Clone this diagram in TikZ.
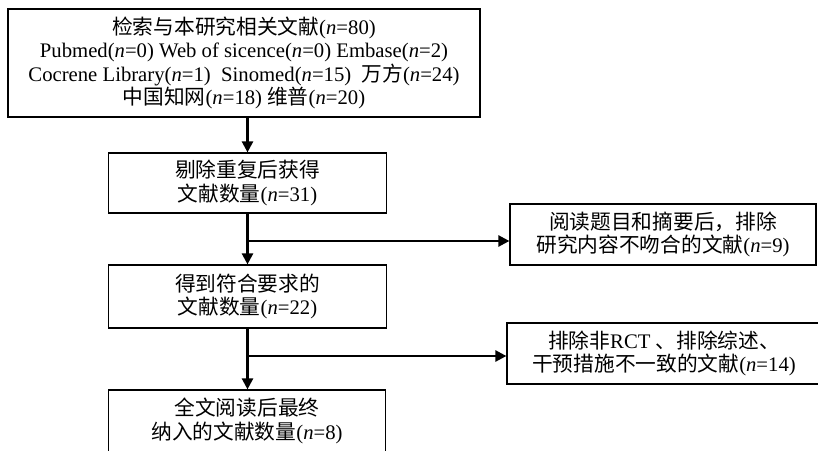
\documentclass[tikz,border=0pt]{standalone}
\usepackage{fontspec}
\setmainfont{Liberation Serif}
\newfontfamily\cjk[Scale=1.0]{Noto Sans CJK SC}
\usetikzlibrary{arrows.meta}
\newcommand\itn{\textit{n}}
\newcommand\zh[1]{{\cjk #1}}
\begin{document}
\begin{tikzpicture}[x=1pt,y=-1pt,
  box/.style={draw, line width=1.2pt, inner sep=0pt, align=center,
    font=\fontsize{20.7}{23.5}\selectfont},
  conn/.style={line width=2.4pt, -{Triangle[width=11pt,length=11pt]}}]
\useasboundingbox (0,0) rectangle (818,450);
\clip (0,0) rectangle (818,450);
\fill[white] (0,0) rectangle (818,450);
\node[box, minimum width=472pt, minimum height=108pt] (s) at (244,63)
  {\zh{检索与本研究相关文献}(\itn=80)\\
   Pubmed(\itn=0) Web of sicence(\itn=0) Embase(\itn=2)\\
   Cocrene Library(\itn=1)\ \ Sinomed(\itn=15)\ \ \zh{万方}(\itn=24)\\
   \zh{中国知网}(\itn=18) \zh{维普}(\itn=20)};
\node[box, minimum width=278pt, minimum height=60pt] (a) at (247.5,183)
  {\zh{剔除重复后获得}\\\zh{文献数量}(\itn=31)};
\node[box, minimum width=278pt, minimum height=63pt] (b) at (247.5,296.5)
  {\zh{得到符合要求的}\\\zh{文献数量}(\itn=22)};
\node[box, minimum width=277pt, minimum height=62pt] (c) at (247,421)
  {\zh{全文阅读后最终}\\\zh{纳入的文献数量}(\itn=8)};
\node[box, minimum width=306pt, minimum height=61pt] (r1) at (663,234.5)
  {\zh{阅读题目和摘要后，排除}\\\zh{研究内容不吻合的文献}(\itn=9)};
\node[box, minimum width=314pt, minimum height=61pt] (r2) at (664,353.5)
  {\zh{排除非}RCT \zh{、排除综述、}\\\zh{干预措施不一致的文献}(\itn=14)};
\coordinate (b1) at (247.5,241);
\coordinate (b2) at (247.5,356);
\draw[conn] (a.north |- s.south) -- (a.north);
\draw[conn] (a.south) -- (b.north);
\draw[conn] (b.south) -- (b.south |- c.north);
\draw[conn] (b1) -- (b1 -| r1.west);
\draw[conn] (b2) -- (b2 -| r2.west);
\end{tikzpicture}
\end{document}
